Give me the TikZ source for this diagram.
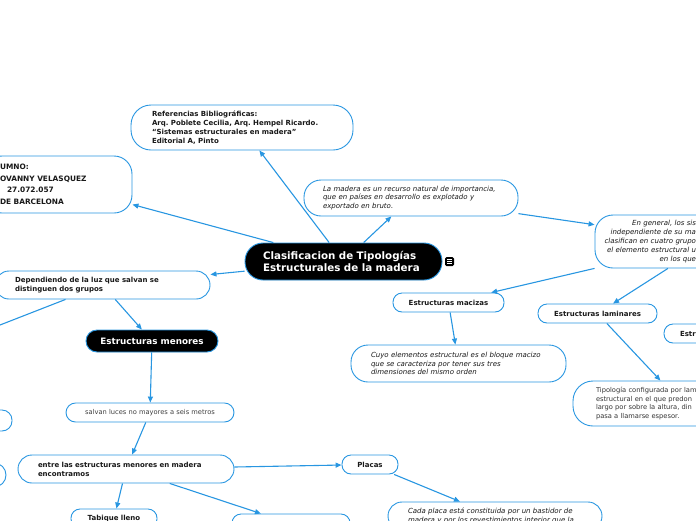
\documentclass[tikz,border=0pt]{standalone}
\usepackage{fontspec}
\setmainfont{DejaVu Sans}
\usepackage{xcolor}
\usetikzlibrary{positioning, arrows.meta}

\definecolor{mapblue}{RGB}{40,150,225}
\definecolor{maptext}{RGB}{25,25,25}
\newcommand{\cutoff}{\rule{124pt}{0pt}}
\frenchspacing

\begin{document}
\begin{tikzpicture}[
  x=1pt, y=-1pt,
  every node/.style={font=\fontsize{6.7}{8.8}\selectfont, text=maptext},
  boldtext/.style={font=\bfseries\fontsize{7}{8.8}\selectfont},
  italictext/.style={font=\itshape\fontsize{7}{8.8}\selectfont},
  bubble/.style={rectangle, draw=mapblue, line width=0.9pt, fill=white, rounded corners=9pt, inner ysep=0pt},
  pill/.style={bubble, boldtext},
  textbox/.style={bubble, rounded corners=15pt, align=left},
  darkbox/.style={bubble, fill=black, text=white},
  link/.style={draw=mapblue, line width=1.1pt, -{Triangle[length=6pt,width=5pt]}}
]
\useasboundingbox (0,0) rectangle (696,520);
\clip (0,0) rectangle (696,520);

% Central topic
\node[darkbox, rounded corners=18pt, minimum width=197, minimum height=37, inner xsep=18pt, text width=161pt, align=left, font=\bfseries\fontsize{10.3}{12}\selectfont] (tema) at (343.5,261.5) {Clasificacion de Tipologías\\Estructurales de la madera};
\node[fill=black, rounded corners=1.5pt, minimum size=9pt, inner sep=0pt] (nota) at (449.5,261.5) {};
\foreach \dy in {-2,0,2}
  \draw[white, line width=0.7pt] ([xshift=-2.4pt,yshift=\dy pt]nota.center) -- ([xshift=2.4pt,yshift=\dy pt]nota.center);

% Upper branches
\node[textbox, rounded corners=20pt, minimum width=222, minimum height=45, inner xsep=21pt, text width=180pt, boldtext] (fuentes) at (242,127.5) {Referencias Bibliográficas:\\Arq. Poblete Cecilia, Arq. Hempel Ricardo.\\“Sistemas estructurales en madera”\\Editorial A, Pinto};
\node[textbox, rounded corners=18pt, minimum width=148, minimum height=57, inner xsep=16pt, text width=116pt, font=\bfseries\fontsize{7.4}{11.5}\selectfont] (alumno) at (58,184.5) {UMNO:\\OVANNY VELASQUEZ\\\hspace*{7pt}27.072.057\\DE BARCELONA};
\node[textbox, rounded corners=17pt, minimum width=214, minimum height=36, inner xsep=19pt, text width=176pt, italictext] (recurso) at (411,198) {La madera es un recurso natural de importancia,\\que en países en desarrollo es explotado y\\exportado en bruto.};
\node[textbox, rounded corners=18pt, minimum width=230, minimum height=53, inner xsep=5pt, text width=220pt, align=right, italictext] (general) at (710,241.5) {En general, los sis\cutoff\\independiente de su ma\cutoff\\clasifican en cuatro grupo\cutoff\\el elemento estructural u\cutoff\\en los que\cutoff};

% Right groups
\node[pill, minimum width=111, minimum height=19] (macizas) at (448.5,302.5) {Estructuras macizas};
\node[textbox, rounded corners=17pt, minimum width=215, minimum height=37, inner xsep=20pt, text width=175pt, italictext] (bloque) at (458.5,363.5) {Cuyo elementos estructural es el bloque macizo\\que se caracteriza por tener sus tres\\dimensiones del mismo orden};
\node[pill, minimum width=119, minimum height=19] (laminares) at (597.5,313.5) {Estructuras laminares};
\node[pill, minimum width=120, minimum height=19, inner xsep=16pt, text width=88pt, align=left] (lineales) at (724,333.5) {Estructuras};
\node[textbox, rounded corners=20pt, minimum width=218, minimum height=45, inner xsep=23pt, text width=172pt, text=black!80] (lamina) at (682,403.5) {Tipología configurada por lam\\estructural en el que predon\\largo por sobre la altura, din\\pasa a llamarse espesor.};

% Left groups
\node[textbox, rounded corners=14pt, minimum width=215, minimum height=28, inner xsep=20pt, text width=175pt, boldtext] (grupos) at (102.5,285) {Dependiendo de la luz que salvan se\\distinguen dos grupos};
\coordinate (mayores) at (-100,364);
\node[darkbox, rounded corners=11pt, minimum width=132, minimum height=22, font=\bfseries\fontsize{8.8}{10}\selectfont] (menores) at (152,341) {Estructuras menores};
\node[bubble, rounded corners=9.5pt, minimum width=168, minimum height=19, text=black!75] (luces) at (150,412.5) {salvan luces no mayores a seis metros};
\node[textbox, rounded corners=14pt, minimum width=216, minimum height=28, inner xsep=20pt, text width=176pt, boldtext] (tipos) at (126,469) {entre las estructuras menores en madera\\encontramos};
\node[bubble, rounded corners=10pt, minimum width=104, minimum height=21] (izq1) at (-40,420.5) {};
\node[bubble, rounded corners=12pt, minimum width=104, minimum height=24] (izq2) at (-46,475) {};

% Bottom row
\node[pill, minimum width=56, minimum height=19] (placas) at (370,464.5) {Placas};
\node[textbox, rounded corners=14pt, minimum width=214, minimum height=28, inner xsep=20pt, text width=174pt, italictext] (placa) at (495,516) {Cada placa está constituida por un bastidor de\\madera y por los revestimientos interior que la};
\node[pill, minimum width=86, minimum height=19] (tabique) at (114,518.5) {Tabique lleno};
\node[pill, minimum width=118, minimum height=19] (otro) at (291,523.5) {};

% Connectors
\draw[link] (tema) -- (fuentes);
\draw[link] (tema) -- (alumno);
\draw[link] (tema) -- (recurso);
\draw[link] (tema) -- (grupos);
\draw[link] (recurso) -- (general);
\draw[link] (general) -- (macizas);
\draw[link] (general) -- (laminares);
\draw[link] (macizas) -- (bloque);
\draw[link] (laminares) -- (lamina);
\draw[link] (grupos) -- (mayores);
\draw[link] (grupos) -- (menores);
\draw[link] (menores) -- (luces);
\draw[link] (luces) -- (tipos);
\draw[link] (tipos) -- (placas);
\draw[link] (tipos) -- (tabique);
\draw[link] (tipos) -- (otro);
\draw[link] (placas) -- (placa);

\end{tikzpicture}
\end{document}
